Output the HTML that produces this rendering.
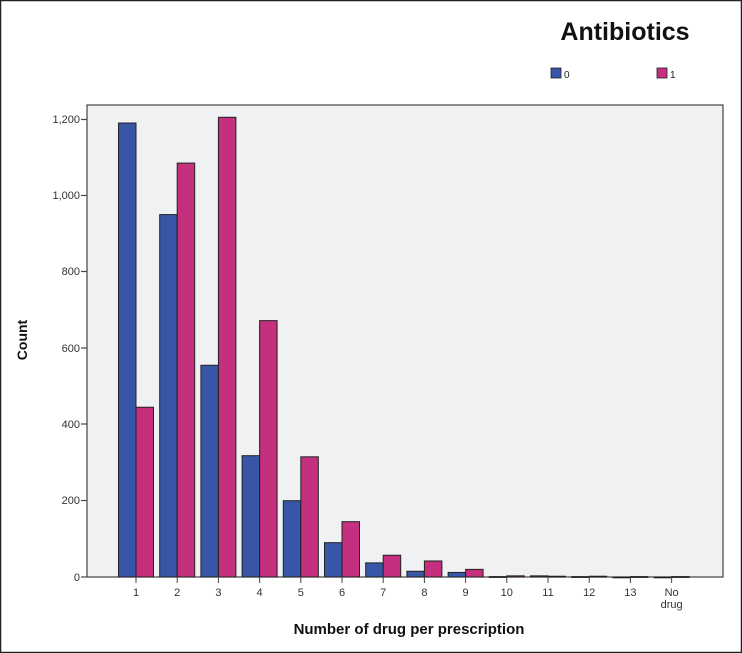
<!DOCTYPE html>
<html><head><meta charset="utf-8"><style>
html,body{margin:0;padding:0;background:#fff;}
svg{display:block;font-family:"Liberation Sans",Arial,sans-serif;}
</style></head><body>
<svg width="742" height="653" viewBox="0 0 742 653" xmlns="http://www.w3.org/2000/svg">
<rect x="0.5" y="0.5" width="741" height="652" fill="#fff" stroke="#222" stroke-width="1.5"/>
<text x="625" y="40" font-size="25" font-weight="bold" text-anchor="middle" fill="#111">Antibiotics</text>
<rect x="551" y="68" width="10" height="10" fill="#3856a8" stroke="#222" stroke-width="0.8"/>
<text x="564" y="78" font-size="10" fill="#222">0</text>
<rect x="657" y="68" width="10" height="10" fill="#c42f7e" stroke="#222" stroke-width="0.8"/>
<text x="670" y="78" font-size="10" fill="#222">1</text>
<rect x="87" y="105" width="636" height="472" fill="#f0f1f2" stroke="#444" stroke-width="1.2"/>
<g font-size="11" fill="#333" text-anchor="end">
<text x="80" y="123">1,200</text><text x="80" y="199">1,000</text><text x="80" y="275">800</text>
<text x="80" y="352">600</text><text x="80" y="428">400</text><text x="80" y="504">200</text><text x="80" y="581">0</text>
</g>
<g stroke="#444" stroke-width="1.2">
<line x1="81" y1="119.5" x2="87" y2="119.5"/><line x1="81" y1="195.5" x2="87" y2="195.5"/>
<line x1="81" y1="271.5" x2="87" y2="271.5"/><line x1="81" y1="348" x2="87" y2="348"/>
<line x1="81" y1="424" x2="87" y2="424"/><line x1="81" y1="500.5" x2="87" y2="500.5"/>
<line x1="81" y1="577" x2="87" y2="577"/>
</g>
<g id="bars" stroke="#222" stroke-width="1"></g>
<text transform="translate(27,340) rotate(-90)" font-size="14" font-weight="bold" text-anchor="middle" fill="#111">Count</text>
<text x="409" y="634" font-size="15" font-weight="bold" text-anchor="middle" fill="#111">Number of drug per prescription</text>
<g id="xl" font-size="11" fill="#333" text-anchor="middle"></g>
<script>
var b=[1190,950,555,318,200,90,37,15,12,1,3,1,0,0];
var p=[445,1085,1205,672,315,145,57,42,20,3,2,2,1,1];
var g=document.getElementById('bars'),xl=document.getElementById('xl'),ns='http://www.w3.org/2000/svg';
var labs=['1','2','3','4','5','6','7','8','9','10','11','12','13','No'];
for(var i=0;i<14;i++){
 var c=136+i*41.2, s=76.3/200;
 [[b[i],c-17.5,'#3856a8'],[p[i],c,'#c42f7e']].forEach(function(a){
  var h=a[0]*s; var r=document.createElementNS(ns,'rect');
  r.setAttribute('x',a[1]);r.setAttribute('width',17.5);r.setAttribute('y',577-h);r.setAttribute('height',Math.max(h,0.8));r.setAttribute('fill',a[2]);g.appendChild(r);
 });
 var l=document.createElementNS(ns,'line');l.setAttribute('x1',c);l.setAttribute('x2',c);l.setAttribute('y1',577);l.setAttribute('y2',583);l.setAttribute('stroke','#444');g.appendChild(l);
 var t=document.createElementNS(ns,'text');t.setAttribute('x',c);t.setAttribute('y',596);t.textContent=labs[i];xl.appendChild(t);
}
var t2=document.createElementNS(ns,'text');t2.setAttribute('x',136+13*41.2);t2.setAttribute('y',608);t2.textContent='drug';xl.appendChild(t2);
</script>
</svg>
</body></html>
